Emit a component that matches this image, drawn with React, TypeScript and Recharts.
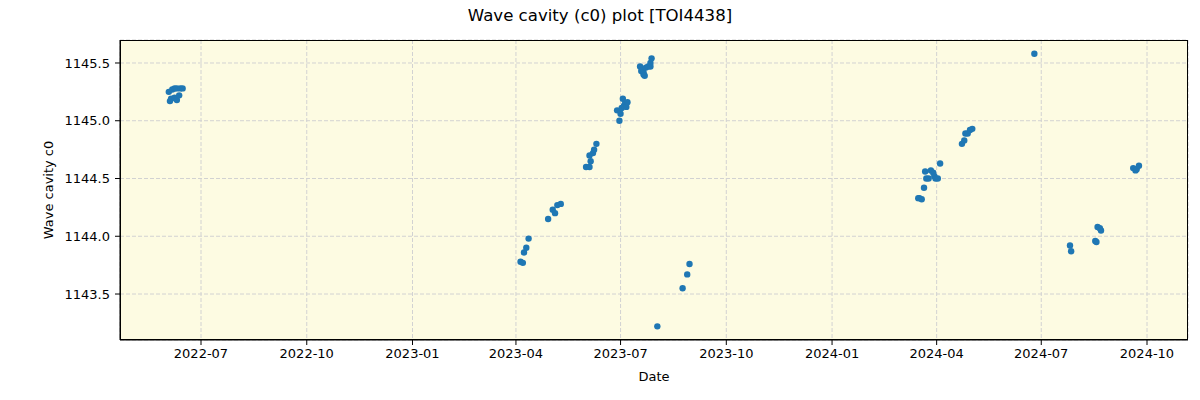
import React from "react"
import { ScatterChart, Scatter, XAxis, YAxis, CartesianGrid } from "recharts"

const obsDates = [
  "2022-06-03", "2022-06-04", "2022-06-05", "2022-06-06", "2022-06-08", "2022-06-08",
  "2022-06-10", "2022-06-10", "2022-06-12", "2022-06-13", "2022-06-15",
  "2023-04-05", "2023-04-07", "2023-04-08", "2023-04-10", "2023-04-12",
  "2023-04-29", "2023-05-03", "2023-05-05", "2023-05-07", "2023-05-10",
  "2023-06-01", "2023-06-04", "2023-06-05", "2023-06-04", "2023-06-07", "2023-06-08", "2023-06-10",
  "2023-06-30", "2023-06-28", "2023-07-01", "2023-07-02", "2023-07-03", "2023-07-04",
  "2023-07-05", "2023-07-06", "2023-07-07",
  "2023-07-18", "2023-07-19", "2023-07-21", "2023-07-21", "2023-07-22", "2023-07-23",
  "2023-07-25", "2023-07-27", "2023-07-27", "2023-07-28",
  "2023-08-02", "2023-08-24", "2023-08-28", "2023-08-30",
  "2024-03-16", "2024-03-17", "2024-03-19", "2024-03-21", "2024-03-22", "2024-03-23",
  "2024-03-25", "2024-03-27", "2024-03-29", "2024-03-30", "2024-03-31", "2024-04-02", "2024-04-04",
  "2024-04-23", "2024-04-25", "2024-04-26", "2024-04-28", "2024-04-30", "2024-05-02",
  "2024-06-25", "2024-07-26", "2024-07-27",
  "2024-08-17", "2024-08-18", "2024-08-19", "2024-08-21", "2024-08-22",
  "2024-09-19", "2024-09-21", "2024-09-22", "2024-09-24",
]

const c0Values = [
  1145.25, 1145.17, 1145.19, 1145.27, 1145.28, 1145.2,
  1145.28, 1145.18, 1145.22, 1145.28, 1145.28,
  1143.78, 1143.77, 1143.86, 1143.9, 1143.98,
  1144.15, 1144.23, 1144.2, 1144.27, 1144.28,
  1144.6, 1144.6, 1144.65, 1144.7, 1144.72, 1144.75, 1144.8,
  1145.0, 1145.09, 1145.06, 1145.11, 1145.19, 1145.13,
  1145.15, 1145.12, 1145.16,
  1145.47, 1145.43, 1145.4, 1145.42, 1145.39, 1145.46,
  1145.47, 1145.47, 1145.5, 1145.54,
  1143.22, 1143.55, 1143.67, 1143.76,
  1144.33, 1144.33, 1144.32, 1144.42, 1144.56, 1144.5,
  1144.5, 1144.57, 1144.55, 1144.52, 1144.5, 1144.5, 1144.63,
  1144.8, 1144.83, 1144.89, 1144.89, 1144.92, 1144.93,
  1145.58, 1143.92, 1143.87,
  1143.96, 1143.95, 1144.08, 1144.07, 1144.05,
  1144.59, 1144.57, 1144.58, 1144.61,
]

const xTickDates = [
  "2022-07-01", "2022-10-01", "2023-01-01", "2023-04-01", "2023-07-01",
  "2023-10-01", "2024-01-01", "2024-04-01", "2024-07-01", "2024-10-01",
]
const yTicks = [1143.5, 1144.0, 1144.5, 1145.0, 1145.5]

const toMs = (d: string) => new Date(d + "T00:00:00Z").getTime()

const data = obsDates.map((d, i) => ({ t: toMs(d), c0: c0Values[i] }))
const xTicks = xTickDates.map(toMs)
const xDomain = [toMs("2022-04-21") + 12.7 * 3600000, toMs("2024-11-05") + 16 * 3600000]
const yDomain = [1143.102, 1145.699]

const FONT = "'DejaVu Sans', sans-serif"
const fmtDate = (v: number) => new Date(v).toISOString().slice(0, 7)

const Dot = (props: any) => <circle cx={props.cx} cy={props.cy} r={3.2} fill="#1f77b4" />

export default function App() {
  return (
    <div style={{ position: "absolute", left: 0, top: 0, width: 1200, height: 400, background: "#fff", fontFamily: FONT }}>
      <div
        style={{
          position: "absolute", top: 6, left: 0, width: 1200, textAlign: "center",
          fontSize: 16.6, lineHeight: "20px", color: "#000",
        }}
      >
        Wave cavity (c0) plot [TOI4438]
      </div>
      <ScatterChart width={1200} height={400} margin={{ top: 40, right: 12, bottom: 30, left: 60 }}>
        <CartesianGrid stroke="#d2d2d2" strokeDasharray="4 2" fill="#fdfbe2" fillOpacity={1} />
        <XAxis
          dataKey="t"
          type="number"
          domain={xDomain}
          ticks={xTicks}
          allowDataOverflow
          tickFormatter={fmtDate}
          height={30}
          stroke="#000"
          tickSize={5}
          tickMargin={4}
          tick={{ fill: "#000", fontSize: 13, fontFamily: FONT }}
          label={() => (
            <text x={654} y={376} textAnchor="middle" dominantBaseline="central" fontSize={13} fontFamily={FONT} fill="#000">
              Date
            </text>
          )}
        />
        <YAxis
          dataKey="c0"
          type="number"
          domain={yDomain}
          ticks={yTicks}
          allowDataOverflow
          tickFormatter={(v: number) => v.toFixed(1)}
          width={60}
          stroke="#000"
          tickSize={5}
          tickMargin={5}
          tick={{ fill: "#000", fontSize: 13, fontFamily: FONT }}
          label={() => (
            <text
              x={48}
              y={190}
              transform="rotate(-90 48 190)"
              textAnchor="middle"
              dominantBaseline="central"
              fontSize={13}
              fontFamily={FONT}
              fill="#000"
            >
              Wave cavity c0
            </text>
          )}
        />
        <Scatter data={data} shape={Dot} isAnimationActive={false} />
      </ScatterChart>
      {/* axes frame (top/right spines) */}
      <div
        style={{
          position: "absolute", left: 120, top: 40, width: 1068, height: 300,
          border: "1px solid #000", boxSizing: "border-box", pointerEvents: "none",
        }}
      />
    </div>
  )
}
